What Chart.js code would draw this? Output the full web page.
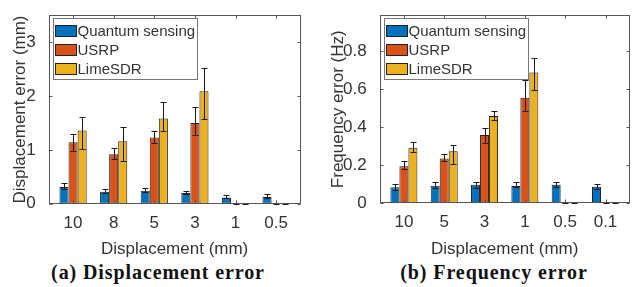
<!DOCTYPE html>
<html lang="en">
<head>
    <meta charset="UTF-8">
    <title>Displacement and frequency error</title>
    <script src="https://cdn.jsdelivr.net/npm/chart.js@4.4.1/dist/chart.umd.min.js"></script>
    <style>
        body { margin: 0; background: #fff; width: 637px; height: 287px; position: relative; overflow: hidden; }
        canvas { position: absolute; top: 0; }
        #dispChart { left: 0; }
        #freqChart { left: 318px; }
        .caption {
            position: absolute; top: 261px; width: 300px; text-align: center;
            font-family: "Liberation Serif", "DejaVu Serif", serif; font-weight: bold;
            font-size: 20px; letter-spacing: 0.9px; color: #111;
        }
    </style>
</head>
<body>
<canvas id="dispChart" width="318" height="260"></canvas>
<canvas id="freqChart" width="319" height="260"></canvas>
<div class="caption" style="left: 8px;">(a) Displacement error</div>
<div class="caption" style="left: 344px;">(b) Frequency error</div>

<script>
    // series names and colours (MATLAB defaults)
    const seriesNames = ['Quantum sensing', 'USRP', 'LimeSDR'];
    const seriesColors = ['#0072BD', '#D95319', '#EDB120'];

    // (a) displacement error, mm
    const dispLabels = ['10', '8', '5', '3', '1', '0.5'];
    const dispTicks = [0, 1, 2, 3];
    const dispQuantum = [0.31, 0.22, 0.24, 0.20, 0.115, 0.125];
    const dispQuantumLow = [0.26, 0.175, 0.20, 0.155, 0.08, 0.085];
    const dispQuantumHigh = [0.38, 0.275, 0.29, 0.24, 0.155, 0.175];
    const dispUsrp = [1.14, 0.92, 1.23, 1.50, 0, 0];
    const dispUsrpLow = [0.965, 0.815, 1.10, 1.265, 0, 0];
    const dispUsrpHigh = [1.29, 1.04, 1.355, 1.80, 0, 0];
    const dispLime = [1.36, 1.16, 1.58, 2.09, 0, 0];
    const dispLimeLow = [0.995, 0.77, 1.33, 1.56, 0, 0];
    const dispLimeHigh = [1.61, 1.43, 1.89, 2.52, 0, 0];

    // (b) frequency error, Hz
    const freqLabels = ['10', '5', '3', '1', '0.5', '0.1'];
    const freqTicks = [0, 0.2, 0.4, 0.6, 0.8];
    const freqQuantum = [0.084, 0.093, 0.098, 0.091, 0.098, 0.087];
    const freqQuantumLow = [0.065, 0.075, 0.077, 0.08, 0.082, 0.072];
    const freqQuantumHigh = [0.101, 0.113, 0.113, 0.11, 0.111, 0.101];
    const freqUsrp = [0.195, 0.236, 0.36, 0.555, 0, 0];
    const freqUsrpLow = [0.173, 0.216, 0.312, 0.478, 0, 0];
    const freqUsrpHigh = [0.221, 0.262, 0.396, 0.651, 0, 0];
    const freqLime = [0.293, 0.274, 0.459, 0.689, 0, 0];
    const freqLimeLow = [0.266, 0.202, 0.432, 0.591, 0, 0];
    const freqLimeHigh = [0.324, 0.307, 0.488, 0.766, 0, 0];

    const SANS = '"Liberation Sans", Arial, Helvetica, sans-serif';
    const AXIS_COLOR = '#555';
    const TEXT_COLOR = '#333';

    // box around the axes with inward ticks, like matlab "box on"
    const axesBox = {
        id: 'axesBox',
        afterDraw(chart) {
            const ctx = chart.ctx;
            const a = chart.chartArea;
            const l = Math.round(a.left) + 0.5, r = Math.round(a.right) - 0.5;
            const t = Math.round(a.top) + 0.5, b = Math.round(a.bottom) - 0.5;
            const tl = 3;
            ctx.save();
            ctx.strokeStyle = AXIS_COLOR;
            ctx.lineWidth = 1;
            ctx.strokeRect(l, t, r - l, b - t);
            ctx.beginPath();
            chart.scales.y.ticks.forEach(tk => {
                const y = Math.round(chart.scales.y.getPixelForValue(tk.value)) + 0.5;
                ctx.moveTo(l, y); ctx.lineTo(l + tl, y);
                ctx.moveTo(r, y); ctx.lineTo(r - tl, y);
            });
            chart.scales.x.ticks.forEach(tk => {
                const x = Math.round(chart.scales.x.getPixelForValue(tk.value)) + 0.5;
                ctx.moveTo(x, b); ctx.lineTo(x, b - tl);
                ctx.moveTo(x, t); ctx.lineTo(x, t + tl);
            });
            ctx.stroke();
            ctx.restore();
        }
    };

    // error bars from the low/high arrays stored on each dataset
    const errorBars = {
        id: 'errorBars',
        afterDatasetsDraw(chart) {
            const ctx = chart.ctx;
            const yScale = chart.scales.y;
            ctx.save();
            ctx.strokeStyle = '#1a1a1a';
            ctx.lineWidth = 1;
            chart.data.datasets.forEach((ds, di) => {
                const meta = chart.getDatasetMeta(di);
                meta.data.forEach((bar, i) => {
                    const x = Math.round(bar.x) + 0.5;
                    const yHi = Math.round(yScale.getPixelForValue(ds.errHigh[i])) + 0.5;
                    const yLo = Math.round(yScale.getPixelForValue(ds.errLow[i])) - 0.5;
                    const cap = 3;
                    ctx.beginPath();
                    ctx.moveTo(x, yHi); ctx.lineTo(x, yLo);
                    ctx.moveTo(x - cap, yHi); ctx.lineTo(x + cap, yHi);
                    ctx.moveTo(x - cap, yLo); ctx.lineTo(x + cap, yLo);
                    ctx.stroke();
                });
            });
            ctx.restore();
        }
    };

    // legend box in the upper left corner of the axes
    const cornerLegend = {
        id: 'cornerLegend',
        afterDraw(chart) {
            const ctx = chart.ctx;
            const a = chart.chartArea;
            const x0 = Math.round(a.left + 4.5) + 0.5, y0 = Math.round(a.top + 3) + 0.5;
            const w = 144, h = 61;
            ctx.save();
            ctx.fillStyle = '#fff';
            ctx.fillRect(x0, y0, w, h);
            ctx.strokeStyle = '#777';
            ctx.lineWidth = 1;
            ctx.strokeRect(x0, y0, w, h);
            ctx.font = '15px ' + SANS;
            ctx.textBaseline = 'middle';
            chart.data.datasets.forEach((ds, i) => {
                const cy = y0 + 12.5 + i * 19.2;
                ctx.fillStyle = ds.backgroundColor;
                ctx.fillRect(x0 + 2, Math.round(cy - 6), 21, 12);
                ctx.strokeStyle = '#222';
                ctx.strokeRect(x0 + 2, Math.round(cy - 6) + 0.5, 21, 11);
                ctx.fillStyle = TEXT_COLOR;
                ctx.fillText(ds.label, x0 + 24, cy + 0.5);
            });
            ctx.restore();
        }
    };

    function makeDataset(i, values, low, high) {
        return {
            label: seriesNames[i],
            data: values.map((v, k) => ({x: k + 1, y: v})),
            errLow: low,
            errHigh: high,
            backgroundColor: seriesColors[i],
            borderColor: '#222',
            borderWidth: 1,
            borderSkipped: false,
            categoryPercentage: 0.67,
            barPercentage: 1.0
        };
    }

    function makeChart(canvasId, labels, ticks, yMax, yTitle, datasets, lay) {
        return new Chart(document.getElementById(canvasId), {
            type: 'bar',
            data: {datasets: datasets},
            options: {
                responsive: false,
                animation: false,
                devicePixelRatio: 1,
                layout: {padding: {top: 11, right: lay.right, left: 0, bottom: 0}},
                plugins: {legend: {display: false}, tooltip: {enabled: false}},
                scales: {
                    x: {
                        type: 'linear',
                        offset: false,
                        min: 0.4,
                        max: 6.6,
                        grid: {display: false, offset: false},
                        border: {display: false},
                        afterBuildTicks: s => { s.ticks = labels.map((l, k) => ({value: k + 1})); },
                        afterFit: s => { s.height = 260 - lay.bottom; },
                        ticks: {
                            callback: v => labels[v - 1],
                            font: {family: SANS, size: 17},
                            color: TEXT_COLOR,
                            padding: 1,
                            maxRotation: 0,
                            autoSkip: false
                        },
                        title: {
                            display: true,
                            text: 'Displacement (mm)',
                            font: {family: SANS, size: 17},
                            color: TEXT_COLOR,
                            padding: {top: 4.8, bottom: 0}
                        }
                    },
                    y: {
                        min: 0,
                        max: yMax,
                        grid: {display: false},
                        border: {display: false},
                        afterBuildTicks: s => { s.ticks = ticks.map(v => ({value: v})); },
                        afterFit: s => { s.width = lay.left; },
                        ticks: {
                            font: {family: SANS, size: 17},
                            color: TEXT_COLOR,
                            padding: 5
                        },
                        title: {
                            display: true,
                            text: yTitle,
                            font: {family: SANS, size: 17},
                            color: TEXT_COLOR,
                            padding: {top: lay.titlePad, bottom: 0}
                        }
                    }
                }
            },
            plugins: [errorBars, axesBox, cornerLegend]
        });
    }

    makeChart('dispChart', dispLabels, dispTicks, 3.5, 'Displacement error (mm)', [
        makeDataset(0, dispQuantum, dispQuantumLow, dispQuantumHigh),
        makeDataset(1, dispUsrp, dispUsrpLow, dispUsrpHigh),
        makeDataset(2, dispLime, dispLimeLow, dispLimeHigh)
    ], {left: 48.7, right: 17.5, bottom: 203.7, titlePad: 9.8});

    makeChart('freqChart', freqLabels, freqTicks, 0.99, 'Frequency error (Hz)', [
        makeDataset(0, freqQuantum, freqQuantumLow, freqQuantumHigh),
        makeDataset(1, freqUsrp, freqUsrpLow, freqUsrpHigh),
        makeDataset(2, freqLime, freqLimeLow, freqLimeHigh)
    ], {left: 61.7, right: 7.3, bottom: 203.3, titlePad: 10.5});
</script>
</body>
</html>
